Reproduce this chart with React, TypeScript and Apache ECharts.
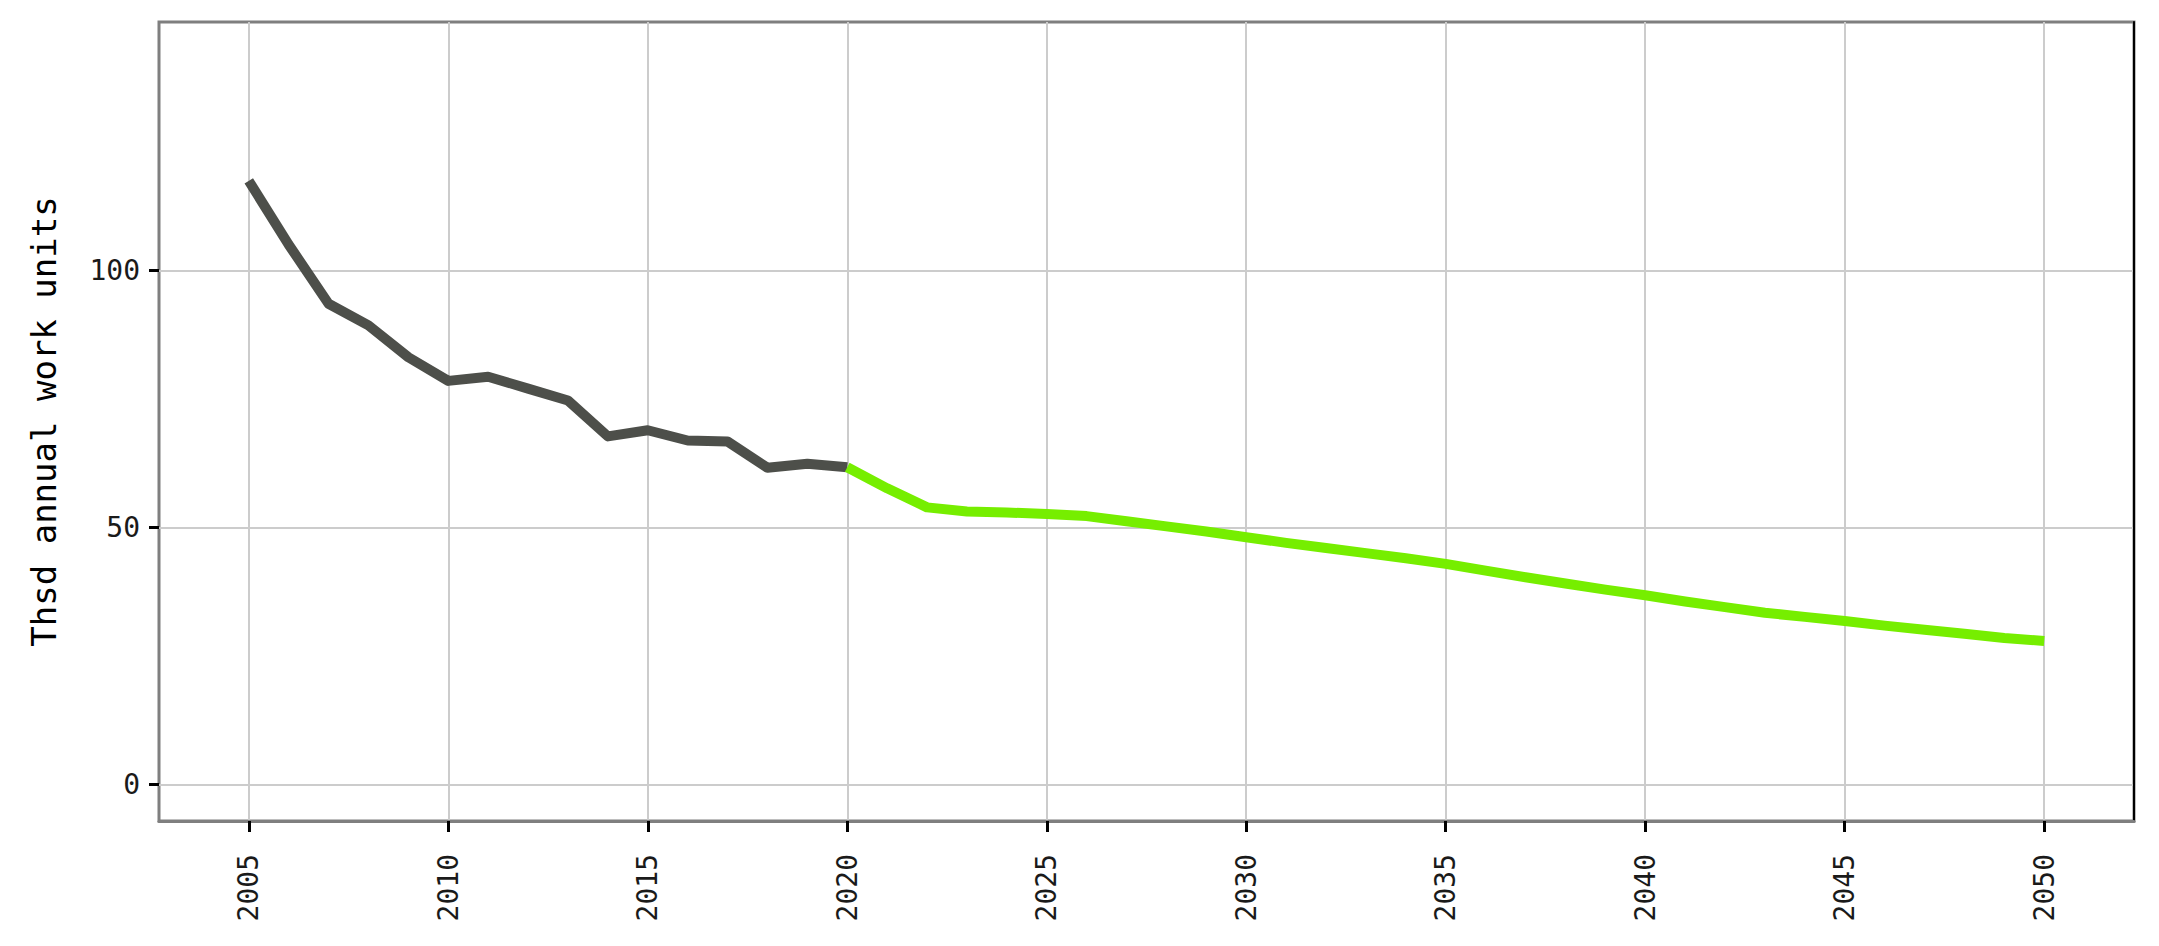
import React, { useEffect, useRef } from "react";
import * as echarts from "echarts";

const historicYears = [2005, 2006, 2007, 2008, 2009, 2010, 2011, 2012, 2013, 2014, 2015, 2016, 2017, 2018, 2019, 2020];
const historicValues = [117.4, 105.0, 93.5, 89.3, 83.1, 78.5, 79.3, 77.0, 74.7, 67.7, 68.9, 66.9, 66.7, 61.6, 62.4, 61.7];

const projectionYears = [2020, 2021, 2022, 2023, 2024, 2025, 2026, 2027, 2028, 2029, 2030, 2031, 2032, 2033, 2034, 2035, 2036, 2037, 2038, 2039, 2040, 2041, 2042, 2043, 2044, 2045, 2046, 2047, 2048, 2049, 2050];
const projectionValues = [61.7, 57.6, 53.9, 53.1, 52.9, 52.6, 52.2, 51.2, 50.2, 49.2, 48.1, 47.0, 46.0, 45.0, 44.0, 42.9, 41.6, 40.3, 39.1, 37.9, 36.8, 35.6, 34.5, 33.4, 32.6, 31.8, 30.9, 30.1, 29.3, 28.5, 27.9];

const xTicks = [2005, 2010, 2015, 2020, 2025, 2030, 2035, 2040, 2045, 2050];
const yTicks = [0, 50, 100];
const yTitle = "Thsd annual work units";

export default function App() {
  const ref = useRef<HTMLDivElement>(null);
  useEffect(() => {
    document.body.style.margin = "0";
    const chart = echarts.init(ref.current!, null, { renderer: "svg" });
    const font = "DejaVu Sans Mono";
    chart.setOption({
      animation: false,
      backgroundColor: "#ffffff",
      grid: {
        left: 159,
        right: 25,
        top: 22,
        bottom: 125,
        show: true,
        borderColor: "#7f7f7f",
        borderWidth: 3,
        backgroundColor: "transparent",
      },
      xAxis: {
        type: "value",
        min: 2002.75,
        max: 2052.25,
        position: "bottom",
        axisLine: { show: true, onZero: false, lineStyle: { color: "#7f7f7f", width: 3 } },
        axisTick: {
          show: true,
          length: 11,
          customValues: xTicks,
          lineStyle: { color: "#000", width: 3 },
        },
        axisLabel: {
          show: true,
          customValues: xTicks,
          rotate: 90,
          margin: 33,
          fontFamily: font,
          fontSize: 28,
          color: "#1a1a1a",
          formatter: (v: number) => String(v),
        },
        splitLine: { show: true, lineStyle: { color: "#cccccc", width: 2 } },
      },
      yAxis: [
        {
          type: "value",
          min: -7.1,
          max: 148.3,
          name: yTitle,
          nameLocation: "middle",
          nameRotate: 90,
          nameGap: 98,
          nameTextStyle: { fontFamily: font, fontSize: 34, color: "#000" },
          axisLine: { show: false, onZero: false },
          axisTick: {
            show: true,
            length: 10,
            customValues: yTicks,
            lineStyle: { color: "#000", width: 3 },
          },
          axisLabel: {
            show: true,
            customValues: yTicks,
            margin: 19,
            fontFamily: font,
            fontSize: 28,
            color: "#1a1a1a",
            formatter: (v: number) => String(v),
          },
          splitLine: { show: true, lineStyle: { color: "#cccccc", width: 2 } },
        },
        {
          type: "value",
          position: "right",
          min: -7.1,
          max: 148.3,
          axisLine: { show: true, onZero: false, lineStyle: { color: "#000", width: 2 } },
          axisTick: { show: false },
          axisLabel: { show: false },
          splitLine: { show: false },
        },
      ],
      series: [
        {
          type: "line",
          name: "historic",
          data: historicYears.map((y, i) => [y, historicValues[i]]),
          showSymbol: false,
          symbol: "none",
          lineStyle: { color: "#4d4f4a", width: 10, join: "round" },
          z: 3,
        },
        {
          type: "line",
          name: "projection",
          data: projectionYears.map((y, i) => [y, projectionValues[i]]),
          showSymbol: false,
          symbol: "none",
          lineStyle: { color: "#76ee00", width: 10, join: "round" },
          z: 3,
        },
      ],
    });
    return () => chart.dispose();
  }, []);
  return <div ref={ref} style={{ width: 2159, height: 946 }} />;
}
